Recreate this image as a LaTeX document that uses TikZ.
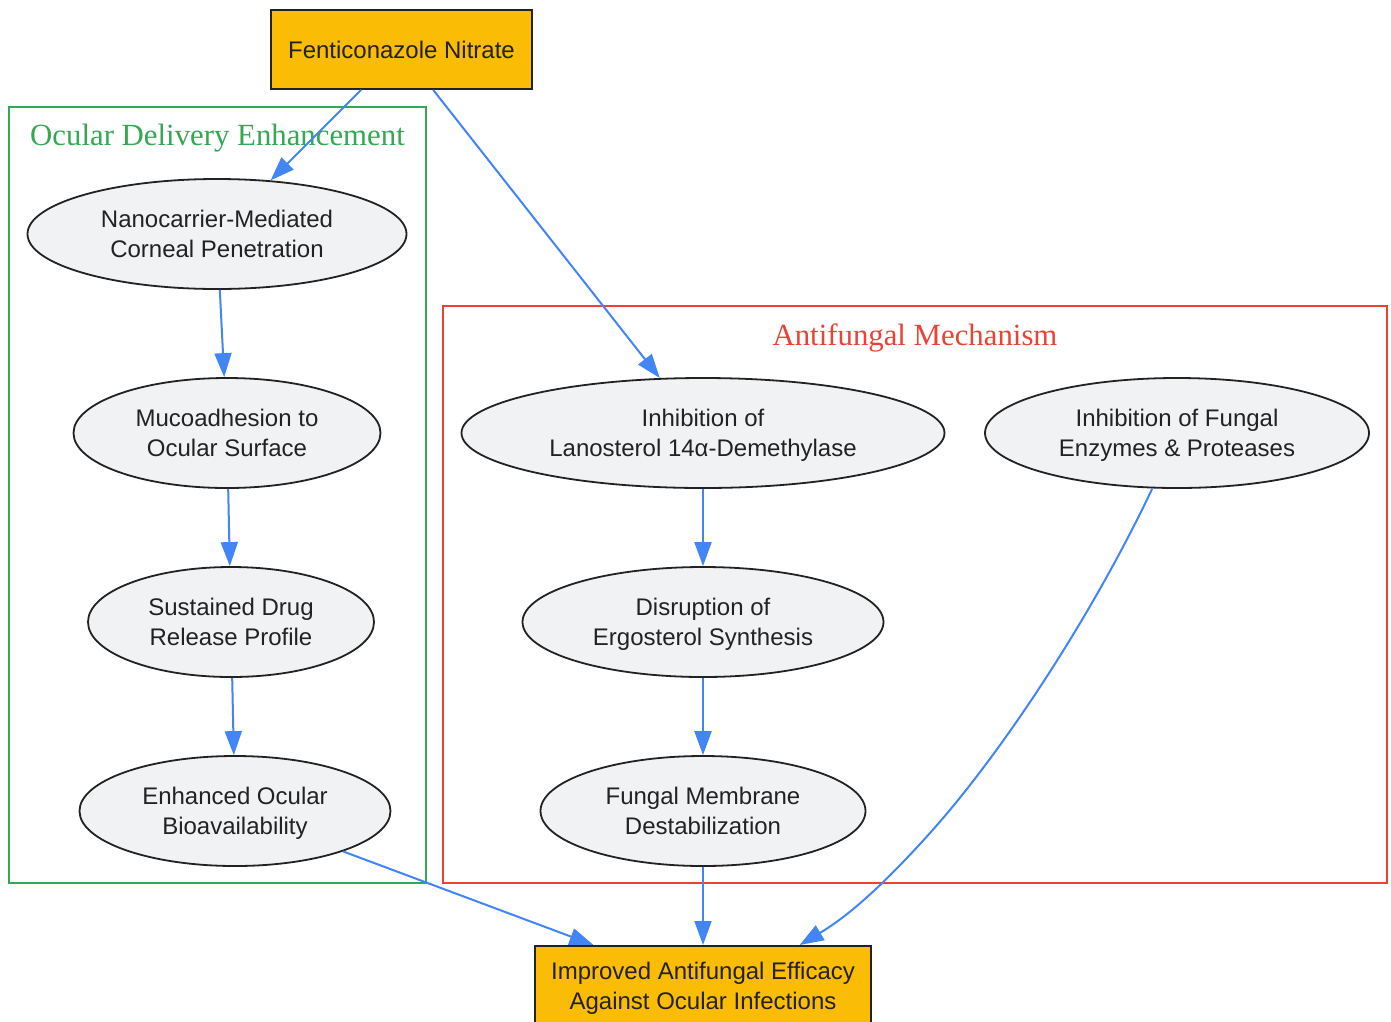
\documentclass[tikz,border=0pt]{standalone}
\usepackage{fontspec}
\setmainfont{Liberation Sans}
\newfontfamily\titlefont{Liberation Serif}
\usetikzlibrary{shapes.geometric,arrows.meta}
\definecolor{yel}{HTML}{FBBC05}
\definecolor{bord}{HTML}{222222}
\definecolor{txt}{HTML}{222222}
\definecolor{ellfill}{HTML}{F1F2F4}
\definecolor{blu}{HTML}{4285F4}
\definecolor{grn}{HTML}{34A853}
\definecolor{rd}{HTML}{EA4335}
\begin{document}
\begin{tikzpicture}[x=1pt,y=-1pt,
  every node/.style={font=\fontsize{24}{30}\selectfont, text=txt},
  ybox/.style={rectangle, draw=bord, line width=2pt, fill=yel, inner sep=0pt, align=center},
  two/.style={text height=46pt, text depth=0pt},
  ell/.style={ellipse, draw=bord, line width=1.8pt, fill=ellfill, inner sep=0pt, align=center, minimum height=110pt, two},
  edge/.style={draw=blu, line width=2pt, -{Triangle[length=24pt,width=17pt]}},
  clus/.style={line width=2pt},
  ctitle/.style={font=\titlefont\fontsize{30.8}{36}\selectfont, anchor=base, inner sep=0pt}
]
\useasboundingbox (0,0) rectangle (1391,1021);
\fill[white] (0,0) rectangle (1391,1021);

% clusters
\draw[clus, draw=grn] (9,107) rectangle (426,883);
\node[ctitle, text=grn] (tgrn) at (217.5,145) {Ocular Delivery Enhancement};
\draw[clus, draw=rd] (443,306) rectangle (1387,883);
\node[ctitle, text=rd] (tred) at (915,345) {Antifungal Mechanism};

% nodes
\node[ybox, minimum width=261pt, minimum height=79pt] (fen) at (401.5,49.5) {Fenticonazole Nitrate};
\node[ybox, two, minimum width=336pt, minimum height=80pt] (impr) at (703,986) {Improved Antifungal Efficacy\\Against Ocular Infections};

\node[ell, minimum width=379pt] (nano) at (217,234) {Nanocarrier-Mediated\\Corneal Penetration};
\node[ell, minimum width=307pt] (muco) at (227,433) {Mucoadhesion to\\Ocular Surface};
\node[ell, minimum width=286pt] (sust) at (231,622) {Sustained Drug\\Release Profile};
\node[ell, minimum width=311pt] (enh) at (235,811) {Enhanced Ocular\\Bioavailability};

\node[ell, minimum width=483pt] (lan) at (703,433) {Inhibition of\\Lanosterol 14α-Demethylase};
\node[ell, minimum width=384pt] (enz) at (1177,433) {Inhibition of Fungal\\Enzymes \& Proteases};
\node[ell, minimum width=361pt] (erg) at (703,622) {Disruption of\\Ergosterol Synthesis};
\node[ell, minimum width=325pt] (mem) at (703,811) {Fungal Membrane\\Destabilization};

% edges
\draw[edge] (fen) -- (nano);
\draw[edge] (fen) -- (lan);
\draw[edge] (nano) -- (muco);
\draw[edge] (muco) -- (sust);
\draw[edge] (sust) -- (enh);
\draw[edge] (enh) -- (impr);
\draw[edge] (lan) -- (erg);
\draw[edge] (erg) -- (mem);
\draw[edge] (mem) -- (impr);
\draw[edge] (enz.246) .. controls (1090,620) and (1000,755) .. (930,833)
  .. controls (885,883) and (850,915) .. (impr.23.5);
\end{tikzpicture}
\end{document}
